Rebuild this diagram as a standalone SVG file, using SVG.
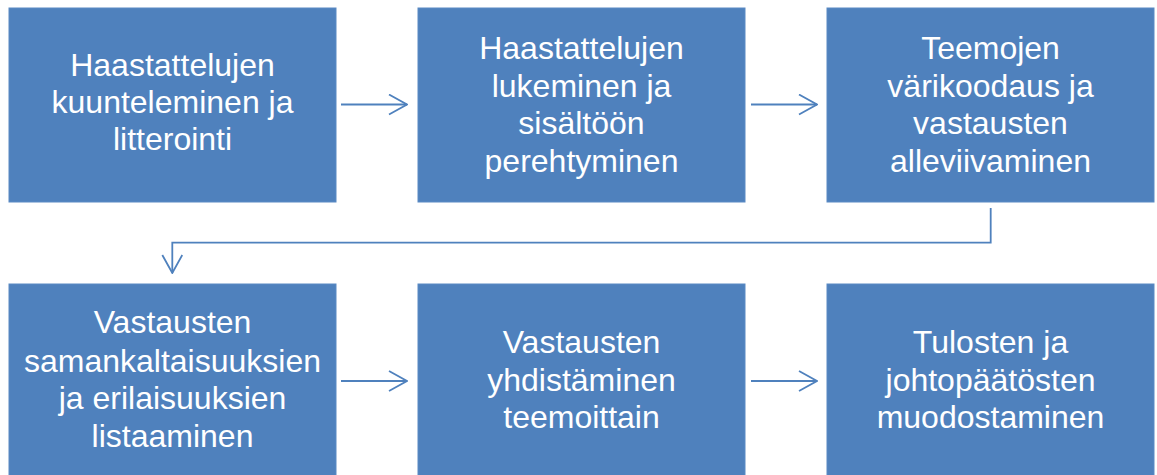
<svg xmlns="http://www.w3.org/2000/svg" width="1157" height="475" viewBox="0 0 1157 475">
<style>
.box{fill:#4F81BD;stroke:#5A8AC4;stroke-width:1}
.t{font-family:"Liberation Sans",Arial,sans-serif;font-size:32px;fill:#FFFFFF;text-anchor:middle}
.c{fill:none;stroke:#4F81BD;stroke-width:1.8}
</style>
<defs>
<marker id="ah" viewBox="0 0 20 22" refX="19" refY="11" markerWidth="20" markerHeight="22" markerUnits="userSpaceOnUse" orient="auto">
<path d="M1,1 L19,11 L1,21" fill="none" stroke="#4F81BD" stroke-width="1.8"/>
</marker>
</defs>
<rect width="1157" height="475" fill="#FFFFFF"/>
<g id="connectors">
<line class="c" x1="341" y1="104.5" x2="407" y2="104.5" marker-end="url(#ah)"/>
<line class="c" x1="751" y1="104.5" x2="817" y2="104.5" marker-end="url(#ah)"/>
<polyline class="c" points="990.7,208 990.7,242.7 172.3,242.7 172.3,273" marker-end="url(#ah)"/>
<line class="c" x1="341" y1="381" x2="407" y2="381" marker-end="url(#ah)"/>
<line class="c" x1="751" y1="381" x2="817" y2="381" marker-end="url(#ah)"/>
</g>
<g id="n1">
<rect class="box" x="9" y="8" width="327" height="194"/>
<text class="t" x="172.5" y="75.7">Haastattelujen</text>
<text class="t" x="172.5" y="112.7">kuunteleminen ja</text>
<text class="t" x="172.5" y="150">litterointi</text>
</g>
<g id="n2">
<rect class="box" x="418" y="8" width="327" height="194"/>
<text class="t" x="581.5" y="59.3">Haastattelujen</text>
<text class="t" x="581.5" y="96.7">lukeminen ja</text>
<text class="t" x="581.5" y="134.3">sisältöön</text>
<text class="t" x="581.5" y="171.7">perehtyminen</text>
</g>
<g id="n3">
<rect class="box" x="827" y="8" width="327" height="194"/>
<text class="t" x="990.5" y="59.3">Teemojen</text>
<text class="t" x="990.5" y="96.7">värikoodaus ja</text>
<text class="t" x="990.5" y="134.3">vastausten</text>
<text class="t" x="990.5" y="171.7">alleviivaminen</text>
</g>
<g id="n4">
<rect class="box" x="9" y="284" width="327" height="194"/>
<text class="t" x="172.5" y="333.3">Vastausten</text>
<text class="t" x="172.5" y="371.7">samankaltaisuuksien</text>
<text class="t" x="172.5" y="409.3">ja erilaisuuksien</text>
<text class="t" x="172.5" y="446.7">listaaminen</text>
</g>
<g id="n5">
<rect class="box" x="418" y="284" width="327" height="194"/>
<text class="t" x="581.5" y="353.3">Vastausten</text>
<text class="t" x="581.5" y="390.7">yhdistäminen</text>
<text class="t" x="581.5" y="428.3">teemoittain</text>
</g>
<g id="n6">
<rect class="box" x="827" y="284" width="327" height="194"/>
<text class="t" x="990.5" y="353.3">Tulosten ja</text>
<text class="t" x="990.5" y="390.7">johtopäätösten</text>
<text class="t" x="990.5" y="428.3">muodostaminen</text>
</g>
</svg>
